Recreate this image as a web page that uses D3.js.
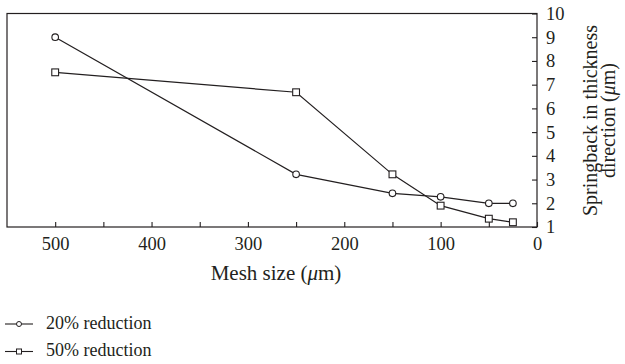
<!DOCTYPE html>
<html><head><meta charset="utf-8">
<script src="https://cdn.jsdelivr.net/npm/d3@7"></script>
<style>body{margin:0;background:#fff}svg{display:block}</style>
</head><body><svg id="c" width="625" height="364"></svg>
<script>
const meshSizes = [500, 250, 150, 100, 50, 25];
const reduction20 = [9.0, 3.22, 2.42, 2.27, 2.0, 2.0];
const reduction50 = [7.52, 6.68, 3.22, 1.9, 1.35, 1.2];
const seriesNames = ["20% reduction", "50% reduction"];
const xTickLabels = [500, 400, 300, 200, 100, 0];
const yTickLabels = [1, 2, 3, 4, 5, 6, 7, 8, 9, 10];

const FONT = "'Liberation Serif', 'Times New Roman', 'DejaVu Serif', serif";
const svg = d3.select("#c").attr("font-family", FONT);
const L = 7, R = 537, T = 13.5, B = 227;
const x = d3.scaleLinear().domain([550, 0]).range([L, R]);
const y = d3.scaleLinear().domain([1, 10]).range([B, T]);
const ink = "#231f20";

// frame
svg.append("rect").attr("x", L).attr("y", T).attr("width", R - L).attr("height", B - T)
  .attr("fill", "none").attr("stroke", ink).attr("stroke-width", 1.2);

// x axis
const xAxis = d3.axisBottom(x).tickValues(d3.range(500, -1, -50)).tickSize(-5).tickPadding(10)
  .tickFormat(d => xTickLabels.includes(d) ? d : "");
const gx = svg.append("g").attr("transform", `translate(0,${B})`).call(xAxis).attr("font-family", FONT);
gx.select(".domain").remove();
gx.selectAll("line").attr("stroke", ink).attr("stroke-width", 1.1);
gx.selectAll("text").attr("font-size", 18.5).attr("font-family", FONT).attr("dy", "0.71em").attr("fill", ink);

// y axis (right)
const yAxis = d3.axisRight(y).tickValues(yTickLabels).tickSize(-5).tickPadding(9);
const gy = svg.append("g").attr("transform", `translate(${R},0)`).call(yAxis).attr("font-family", FONT);
gy.select(".domain").remove();
gy.selectAll("line").attr("stroke", ink).attr("stroke-width", 1.1);
gy.selectAll("text").attr("font-size", 18.5).attr("font-family", FONT).attr("fill", ink);

// axis titles
const xt = svg.append("text").attr("x", 276).attr("y", 280).attr("text-anchor", "middle")
  .attr("font-size", 21).attr("font-family", FONT).attr("fill", ink);
xt.append("tspan").text("Mesh size (");
xt.append("tspan").attr("font-style", "italic").text("\u03bc");
xt.append("tspan").text("m)");

const yt = svg.append("text").attr("transform", `translate(597,120.5) rotate(-90)`).attr("text-anchor", "middle")
  .attr("font-size", 20).attr("font-family", FONT).attr("fill", ink);
yt.append("tspan").attr("x", 0).attr("y", 0).text("Springback in thickness");
const t2 = yt.append("tspan").attr("x", 0).attr("y", 17.5);
t2.append("tspan").text("direction (");
t2.append("tspan").attr("font-style", "italic").text("\u03bc");
t2.append("tspan").text("m)");

// series
const data20 = meshSizes.map((m, i) => [m, reduction20[i]]);
const data50 = meshSizes.map((m, i) => [m, reduction50[i]]);
const line = d3.line().x(d => x(d[0])).y(d => y(d[1]));
[data20, data50].forEach(d => {
  svg.append("path").attr("d", line(d)).attr("fill", "none").attr("stroke", ink).attr("stroke-width", 1.2);
});
svg.append("g").selectAll("circle").data(data20).join("circle")
  .attr("cx", d => x(d[0])).attr("cy", d => y(d[1])).attr("r", 3.3)
  .attr("fill", "#fff").attr("stroke", ink).attr("stroke-width", 1.1);
svg.append("g").selectAll("rect").data(data50).join("rect")
  .attr("x", d => x(d[0]) - 3.4).attr("y", d => y(d[1]) - 3.4).attr("width", 6.8).attr("height", 6.8)
  .attr("fill", "#fff").attr("stroke", ink).attr("stroke-width", 1.1);

// legend
const lg = svg.append("g");
seriesNames.forEach((n, i) => {
  const yy = 324 + i * 27.5;
  lg.append("line").attr("x1", 5).attr("x2", 33).attr("y1", yy).attr("y2", yy).attr("stroke", ink).attr("stroke-width", 1.1);
  if (i === 0) lg.append("circle").attr("cx", 19).attr("cy", yy).attr("r", 2.5).attr("fill", "#fff").attr("stroke", ink).attr("stroke-width", 1);
  else lg.append("rect").attr("x", 16.5).attr("y", yy - 2.5).attr("width", 5).attr("height", 5).attr("fill", "#fff").attr("stroke", ink).attr("stroke-width", 1);
  lg.append("text").attr("x", 46).attr("y", yy + 4.5).attr("font-size", 18).attr("font-family", FONT).attr("fill", ink).text(n);
});
</script></body></html>
